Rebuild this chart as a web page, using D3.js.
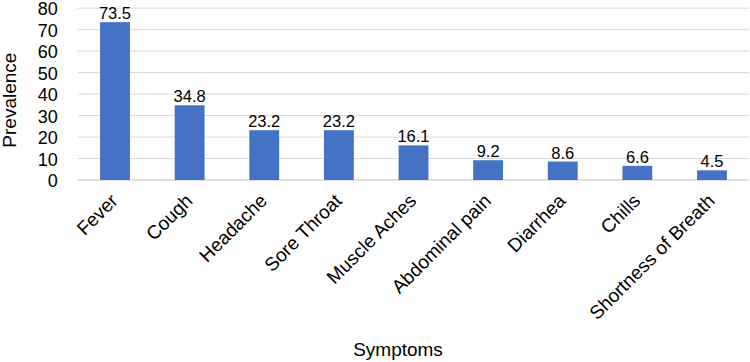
<!DOCTYPE html>
<html><head><meta charset="utf-8">
<script src="https://cdn.jsdelivr.net/npm/d3@7"></script>
<style>body{margin:0;background:#fff}svg{display:block}text{font-family:"Liberation Sans",Arial,sans-serif}</style>
</head><body>
<script>
const categories = ["Fever","Cough","Headache","Sore Throat","Muscle Aches","Abdominal pain","Diarrhea","Chills","Shortness of Breath"];
const values = [73.5,34.8,23.2,23.2,16.1,9.2,8.6,6.6,4.5];
const yTicks = [0,10,20,30,40,50,60,70,80];

const W=750,H=362;
const svg=d3.select("body").append("svg").attr("width",W).attr("height",H);
const mLeft=77.7,mRight=749.3,mTop=8.2,mBottom=180;
const x=d3.scaleBand().domain(categories).range([mLeft,mRight]).paddingInner(0.6).paddingOuter(0.3);
const y=d3.scaleLinear().domain([0,80]).range([mBottom,mTop]);

svg.append("g").selectAll("line").data(yTicks).join("line")
  .attr("x1",mLeft).attr("x2",mRight).attr("y1",d=>y(d)).attr("y2",d=>y(d))
  .attr("stroke",d=>d===0?"#bfbfbf":"#d9d9d9").attr("stroke-width",1);

const ya=svg.append("g").attr("transform",`translate(${mLeft-16},0)`)
  .call(d3.axisLeft(y).tickValues(yTicks).tickSize(0).tickPadding(4));
ya.select(".domain").remove();
ya.selectAll("text").attr("font-size",18).attr("fill","#000").attr("dy","0.36em")
  .attr("font-family","Liberation Sans, Arial, sans-serif");

svg.append("g").selectAll("rect").data(values).join("rect")
  .attr("x",(d,i)=>x(categories[i])).attr("width",x.bandwidth())
  .attr("y",d=>y(d)).attr("height",d=>y(0)-y(d)).attr("fill","#4472C4");

svg.append("g").selectAll("text").data(values).join("text")
  .attr("x",(d,i)=>x(categories[i])+x.bandwidth()/2).attr("y",d=>y(d)-3)
  .attr("text-anchor","middle").attr("font-size",16.5).attr("fill","#000")
  .text(d=>d.toFixed(1));

const xa=svg.append("g").attr("transform",`translate(0,${mBottom})`)
  .call(d3.axisBottom(x).tickSize(0));
xa.select(".domain").remove();
xa.selectAll("text").attr("font-size",19).attr("fill","#000")
  .attr("font-family","Liberation Sans, Arial, sans-serif")
  .attr("text-anchor","end").attr("dy",null)
  .attr("transform","translate(4,22) rotate(-45)").attr("y",0).attr("x",0);

svg.append("text").attr("transform",`translate(15.5,${(mTop+mBottom)/2+6}) rotate(-90)`)
  .attr("text-anchor","middle").attr("font-size",19).text("Prevalence");
svg.append("text").attr("x",398).attr("y",356).attr("text-anchor","middle")
  .attr("font-size",19).text("Symptoms");
</script>
</body></html>
